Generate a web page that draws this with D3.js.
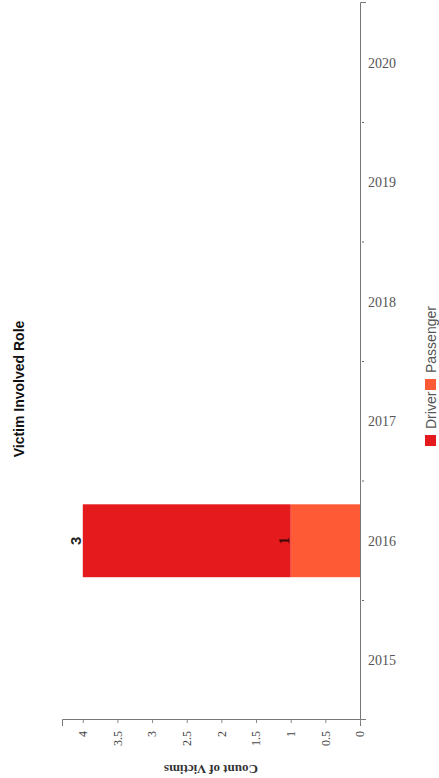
<!DOCTYPE html>
<html>
<head>
<meta charset="utf-8">
<script src="https://cdn.jsdelivr.net/npm/d3@7"></script>
<style>
  body { margin: 0; background: #fff; }
</style>
</head>
<body>
<div id="chart"></div>
<script>
// chart data
var years = ["2015", "2016", "2017", "2018", "2019", "2020"];
var roles = ["Passenger", "Driver"];
var legendRoles = ["Driver", "Passenger"];
var passengerCounts = [0, 1, 0, 0, 0, 0];
var driverCounts = [0, 3, 0, 0, 0, 0];
var valueTicks = [0, 0.5, 1, 1.5, 2, 2.5, 3, 3.5, 4];
var roleColors = ["#ff5a36", "#e41a1c"];

// page is 439 x 778, the chart is drawn 778 x 439 and turned a quarter left
var W = 439, H = 778;
var cw = H, ch = W;

var svg = d3.select("#chart")
    .append("svg")
    .attr("width", W)
    .attr("height", H);

var g = svg.append("g")
    .attr("transform", "translate(0," + H + ") rotate(-90)");

var x = d3.scaleBand()
    .domain(years)
    .range([58, 775])
    .paddingInner(0.39)
    .paddingOuter(0.195);

var y = d3.scaleLinear()
    .domain([0, 4.3])
    .range([360, 62]);

var color = d3.scaleOrdinal().domain(roles).range(roleColors);

var table = years.map(function(yr, i) {
    return { year: yr, Passenger: passengerCounts[i], Driver: driverCounts[i] };
});
var series = d3.stack().keys(roles)(table);

// bars
g.selectAll(".layer")
    .data(series)
    .enter()
    .append("g")
    .attr("fill", d => color(d.key))
    .selectAll("rect")
    .data(d => d.filter(p => p[1] > p[0]))
    .enter()
    .append("rect")
    .attr("x", d => x(d.data.year))
    .attr("width", x.bandwidth())
    .attr("y", d => y(d[1]))
    .attr("height", d => y(d[0]) - y(d[1]));

// value labels
series.forEach(function(s) {
    s.filter(p => p[1] > p[0]).forEach(function(p) {
        var isTop = s.key === "Driver";
        g.append("text")
            .attr("x", x(p.data.year) + x.bandwidth() / 2)
            .attr("y", y(p[1]) - 2)
            .attr("text-anchor", "middle")
            .style("font-family", isTop ? "Liberation Sans, Arial, sans-serif" : "Liberation Serif, Times New Roman, serif")
            .style("font-weight", "bold")
            .style("font-size", "15px")
            .style("fill", isTop ? "#222" : "#3a0a0a")
            .text(p[1] - p[0]);
    });
});

// category axis
var xAxis = g.append("g")
    .attr("transform", "translate(0,360)")
    .call(d3.axisBottom(x).tickSizeInner(0).tickSizeOuter(6).tickPadding(0));

xAxis.select(".domain").attr("stroke", "#777");
xAxis.selectAll("text")
    .attr("transform", "rotate(90)")
    .attr("x", 8)
    .attr("y", 0)
    .attr("dy", "0.35em")
    .style("text-anchor", "start")
    .style("font-family", "Liberation Serif, Times New Roman, serif")
    .style("font-size", "14px")
    .style("fill", "#555");

// small ticks between the years
g.append("g")
    .selectAll("line")
    .data(years.slice(1))
    .enter()
    .append("line")
    .attr("x1", d => x(d) - x.step() * x.paddingInner() / 2)
    .attr("x2", d => x(d) - x.step() * x.paddingInner() / 2)
    .attr("y1", 362)
    .attr("y2", 364)
    .attr("stroke", "#666");

// value axis
var yAxis = g.append("g")
    .attr("transform", "translate(58,0)")
    .call(d3.axisLeft(y)
        .tickValues(valueTicks)
        .tickFormat(d3.format("~g"))
        .tickSizeInner(3)
        .tickSizeOuter(6)
        .tickPadding(8));

yAxis.select(".domain").attr("stroke", "#777");
yAxis.selectAll(".tick line").attr("stroke", "#888");
yAxis.selectAll("text")
    .style("font-family", "Liberation Serif, Times New Roman, serif")
    .style("font-size", "12px")
    .style("fill", "#444");

g.append("text")
    .attr("transform", "translate(13," + (y.range()[0] + y.range()[1]) / 2 + ") rotate(-90)")
    .attr("text-anchor", "middle")
    .style("font-family", "Liberation Serif, Times New Roman, serif")
    .style("font-weight", "bold")
    .style("font-size", "13px")
    .style("fill", "#333")
    .text("Count of Victims");

// title
g.append("text")
    .attr("x", cw / 2)
    .attr("y", 24)
    .attr("text-anchor", "middle")
    .style("font-family", "Liberation Sans, Arial, sans-serif")
    .style("font-weight", "bold")
    .style("font-size", "14px")
    .style("fill", "#111")
    .text("Victim Involved Role");

// legend
var legendX = [332, 388];
var legend = g.append("g")
    .selectAll("g")
    .data(legendRoles)
    .enter()
    .append("g")
    .attr("transform", (d, i) => "translate(" + legendX[i] + ",425)");

legend.append("rect")
    .attr("width", 11)
    .attr("height", 11)
    .attr("fill", d => color(d));

legend.append("text")
    .attr("x", 17)
    .attr("y", 11)
    .style("font-family", "Liberation Sans, Arial, sans-serif")
    .style("font-size", "14px")
    .style("fill", "#555")
    .text(d => d);
</script>
</body>
</html>
